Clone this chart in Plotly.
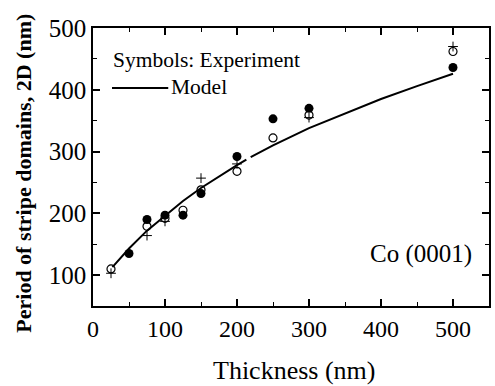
import plotly.graph_objects as go

# Experimental data (thickness nm, period nm)
filled_x = [50, 75, 100, 125, 150, 200, 250, 300, 500]
filled_y = [135, 190, 197, 197, 232, 292, 353, 370, 436]

open_x = [25, 75, 100, 125, 150, 200, 250, 300, 500]
open_y = [110, 179, 192, 205, 238, 268, 322, 359, 462]

plus_x = [25, 75, 100, 150, 200, 300, 500]
plus_y = [103, 164, 187, 257, 280, 355, 470]

# Model curve (with a small break as in the original)
model_x = [27, 50, 75, 100, 125, 150, 175, 200, 213, None, 219, 250, 300, 350, 400, 450, 500]
model_y = [113, 143, 172, 196, 220, 241, 260, 278, 287, None, 291, 310, 338, 362, 385, 406, 426]

FONT = "Liberation Serif"

fig = go.Figure()
fig.add_trace(go.Scatter(x=model_x, y=model_y, mode="lines",
                         line=dict(color="black", width=2), connectgaps=False,
                         showlegend=False))
fig.add_trace(go.Scatter(x=plus_x, y=plus_y, mode="markers",
                         marker=dict(symbol="cross-thin", size=7, color="black",
                                     line=dict(color="black", width=1)),
                         showlegend=False))
fig.add_trace(go.Scatter(x=open_x, y=open_y, mode="markers",
                         marker=dict(symbol="circle-open", size=8, color="black",
                                     line=dict(color="black", width=1.2)),
                         showlegend=False))
fig.add_trace(go.Scatter(x=filled_x, y=filled_y, mode="markers",
                         marker=dict(symbol="circle", size=9, color="black"),
                         showlegend=False))

axis_common = dict(showline=True, linecolor="black", linewidth=1.5, mirror="ticks",
                   ticks="inside", ticklen=7, tickwidth=1.5, tickcolor="black",
                   showgrid=False, zeroline=False,
                   minor=dict(ticks="inside", ticklen=4, tickwidth=1.2, tickcolor="black"))

fig.update_xaxes(range=[0, 550], dtick=100, tick0=0,
                 tickfont=dict(family=FONT, size=24, color="black"), **axis_common)
fig.update_xaxes(minor_dtick=50)
fig.update_yaxes(range=[50, 500], dtick=100, tick0=0,
                 tickfont=dict(family=FONT, size=25, color="black"), **axis_common)
fig.update_yaxes(minor_dtick=50)

# Axis titles as annotations for precise placement
fig.add_annotation(x=0.508, y=-0.232, xref="paper", yref="paper", xanchor="center", yanchor="middle",
                   text="Thickness (nm)", showarrow=False,
                   font=dict(family=FONT, size=26, color="black"))
fig.add_annotation(x=-0.176, y=0.477, xref="paper", yref="paper", xanchor="center", yanchor="middle",
                   text="<b>Period of stripe domains, 2D (nm)</b>", showarrow=False, textangle=-90,
                   font=dict(family=FONT, size=22, color="black"))

fig.add_annotation(x=0.046, y=0.885, xref="paper", yref="paper", xanchor="left", yanchor="middle",
                   text="Symbols: Experiment", showarrow=False,
                   font=dict(family=FONT, size=21.5, color="black"))
fig.add_annotation(x=0.193, y=0.787, xref="paper", yref="paper", xanchor="left", yanchor="middle",
                   text="Model", showarrow=False,
                   font=dict(family=FONT, size=21.5, color="black"))
fig.add_shape(type="line", xref="paper", yref="paper", x0=0.048, x1=0.19, y0=0.784, y1=0.784,
              line=dict(color="black", width=2))
fig.add_annotation(x=0.963, y=0.187, xref="paper", yref="paper", xanchor="right", yanchor="middle",
                   text="Co (0001)", showarrow=False,
                   font=dict(family=FONT, size=25, color="black"))

fig.update_layout(width=495, height=386, margin=dict(l=93, r=4, t=28, b=80),
                  plot_bgcolor="white", paper_bgcolor="white")

fig.write_html("out.html")
